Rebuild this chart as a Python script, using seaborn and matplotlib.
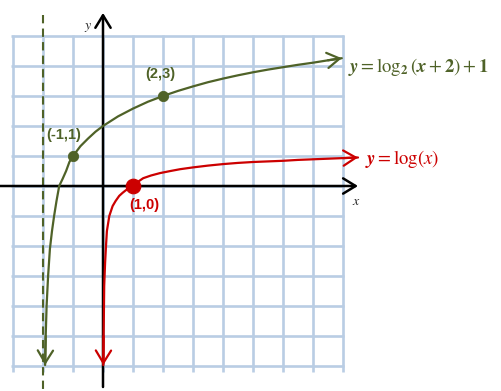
import numpy as np
import pandas as pd
import matplotlib
matplotlib.use("Agg")
import matplotlib.pyplot as plt
import seaborn as sns

VERDE = "#4F6228"  # curva log2
VERMELHO = "#CC0000"  # curva log
GRELHA = "#B9CDE4"

# curva y = log2(x+2)+1
verde_x = [-1.93, -1.91, -1.88, -1.83, -1.77, -1.70, -1.63, -1.55, -1.46, -1.35, -1.23, -1.12, -1.0,
           -0.75, -0.5, -0.25, 0.0, 0.5, 1.0, 1.5, 2.0, 2.5, 3.0, 3.5, 4.0, 4.5, 5.0, 5.5, 6.0, 6.5, 7.0, 7.5, 7.96]
verde_y = [-5.97, -5.0, -4.0, -3.0, -2.1, -1.5, -1.0, -0.5, 0.0, 0.23, 0.5, 0.8, 1.0,
           1.33, 1.58, 1.81, 2.0, 2.32, 2.58, 2.81, 3.0, 3.17, 3.32, 3.46, 3.58, 3.69, 3.79, 3.88, 3.96, 4.04, 4.11, 4.19, 4.26]

# curva y = log(x)
verm_x = [0.01, 0.02, 0.03, 0.04, 0.07, 0.10, 0.13, 0.21, 0.32, 0.42, 0.54, 0.65, 0.75, 0.87, 1.0, 1.15, 1.34, 1.6,
          1.9, 2.25, 2.57, 3.0, 3.5, 4.0, 4.5, 5.0, 5.5, 6.0, 6.5, 7.0, 7.5, 8.0, 8.5]
verm_y = [-5.97, -5.0, -4.2, -3.33, -2.56, -2.0, -1.5, -1.0, -0.67, -0.5, -0.33, -0.23, -0.15, -0.07, 0.0, 0.13, 0.26, 0.35,
          0.43, 0.5, 0.56, 0.62, 0.68, 0.73, 0.77, 0.8, 0.82, 0.84, 0.87, 0.89, 0.91, 0.93, 0.95]

# pontos marcados
pts_verde_x = [-1, 2]
pts_verde_y = [1, 3]
pts_verde_txt = ["(-1,1)", "(2,3)"]
pts_verm_x = [1]
pts_verm_y = [0]
pts_verm_txt = ["(1,0)"]

assintota_x = -2
grelha_x = list(range(-3, 9))
grelha_y = list(range(-6, 6))

df_verde = pd.DataFrame({"x": verde_x, "y": verde_y})
df_verm = pd.DataFrame({"x": verm_x, "y": verm_y})

sns.set_style("white")
plt.rcParams["mathtext.fontset"] = "stix"

fig = plt.figure(figsize=(5.02, 3.91), dpi=100)
ax = fig.add_axes([0, 0, 1, 1])
ax.set_xlim(-103 / 30, 399 / 30)
ax.set_ylim(-205 / 30, 186 / 30)
ax.axis("off")

# grelha
ax.vlines(grelha_x, -6.2, 5.03, color=GRELHA, lw=1.9, zorder=1)
ax.hlines(grelha_y, -3.07, 8.03, color=GRELHA, lw=1.9, zorder=1)

# eixos com setas
seta_eixo = dict(arrowstyle="->,head_length=0.9,head_width=0.55", color="black", lw=1.8, shrinkA=0, shrinkB=0)
ax.annotate("", xy=(8.5, 0), xytext=(-3.45, 0), arrowprops=seta_eixo, zorder=3)
ax.annotate("", xy=(0, 5.77), xytext=(0, -6.7), arrowprops=seta_eixo, zorder=3)
ax.text(8.45, -0.5, "$x$", fontsize=10, ha="center", va="center")
ax.text(-0.5, 5.3, "$y$", fontsize=10, ha="center", va="center")

# assintota
ax.plot([assintota_x, assintota_x], [5.7, -6.9], color=VERDE, lw=1.5, ls=(0, (4, 2.5)), zorder=2)

# curvas
sns.lineplot(data=df_verde, x="x", y="y", sort=False, color=VERDE, lw=1.6, ax=ax, zorder=4)
sns.lineplot(data=df_verm, x="x", y="y", sort=False, color=VERMELHO, lw=1.6, ax=ax, zorder=4)

def seta(ax, xs, ys, cor):
    st = dict(arrowstyle="->,head_length=0.9,head_width=0.55", color=cor, lw=1.6, shrinkA=0, shrinkB=0)
    ax.annotate("", xy=(xs[-1], ys[-1]), xytext=(xs[-2], ys[-2]), arrowprops=st, zorder=5)
    ax.annotate("", xy=(xs[0], ys[0]), xytext=(xs[1], ys[1]), arrowprops=st, zorder=5)

seta(ax, verde_x, verde_y, VERDE)
seta(ax, verm_x, verm_y, VERMELHO)

# pontos
sns.scatterplot(x=pts_verde_x, y=pts_verde_y, color=VERDE, s=55, edgecolor=VERDE, ax=ax, zorder=6)
sns.scatterplot(x=pts_verm_x, y=pts_verm_y, color=VERMELHO, s=110, edgecolor=VERMELHO, ax=ax, zorder=6)
desloc_verde = [(-6.5, 10), (-2, 11)]  # deslocamento dos rótulos (pt)
for px, py, t, d in zip(pts_verde_x, pts_verde_y, pts_verde_txt, desloc_verde):
    ax.annotate(t, (px, py), xytext=d, textcoords="offset points", ha="center", va="bottom",
                color=VERDE, fontsize=10.5, fontweight="bold", family="Liberation Sans")
for px, py, t in zip(pts_verm_x, pts_verm_y, pts_verm_txt):
    ax.annotate(t, (px, py), xytext=(8, -9), textcoords="offset points", ha="center", va="top",
                color=VERMELHO, fontsize=10.5, fontweight="bold", family="Liberation Sans")

# equações
ax.text(8.17, 3.97, r"$\mathbfit{y} = \log_{\mathbf{2}}(\mathbfit{x}+\mathbf{2})+\mathbf{1}$", color=VERDE, fontsize=13.5,
        ha="left", va="center")
ax.text(8.72, 0.9, r"$\mathbfit{y} = \log(x)$", color=VERMELHO, fontsize=13.5, ha="left", va="center")

fig.savefig("out.png", dpi=100)
